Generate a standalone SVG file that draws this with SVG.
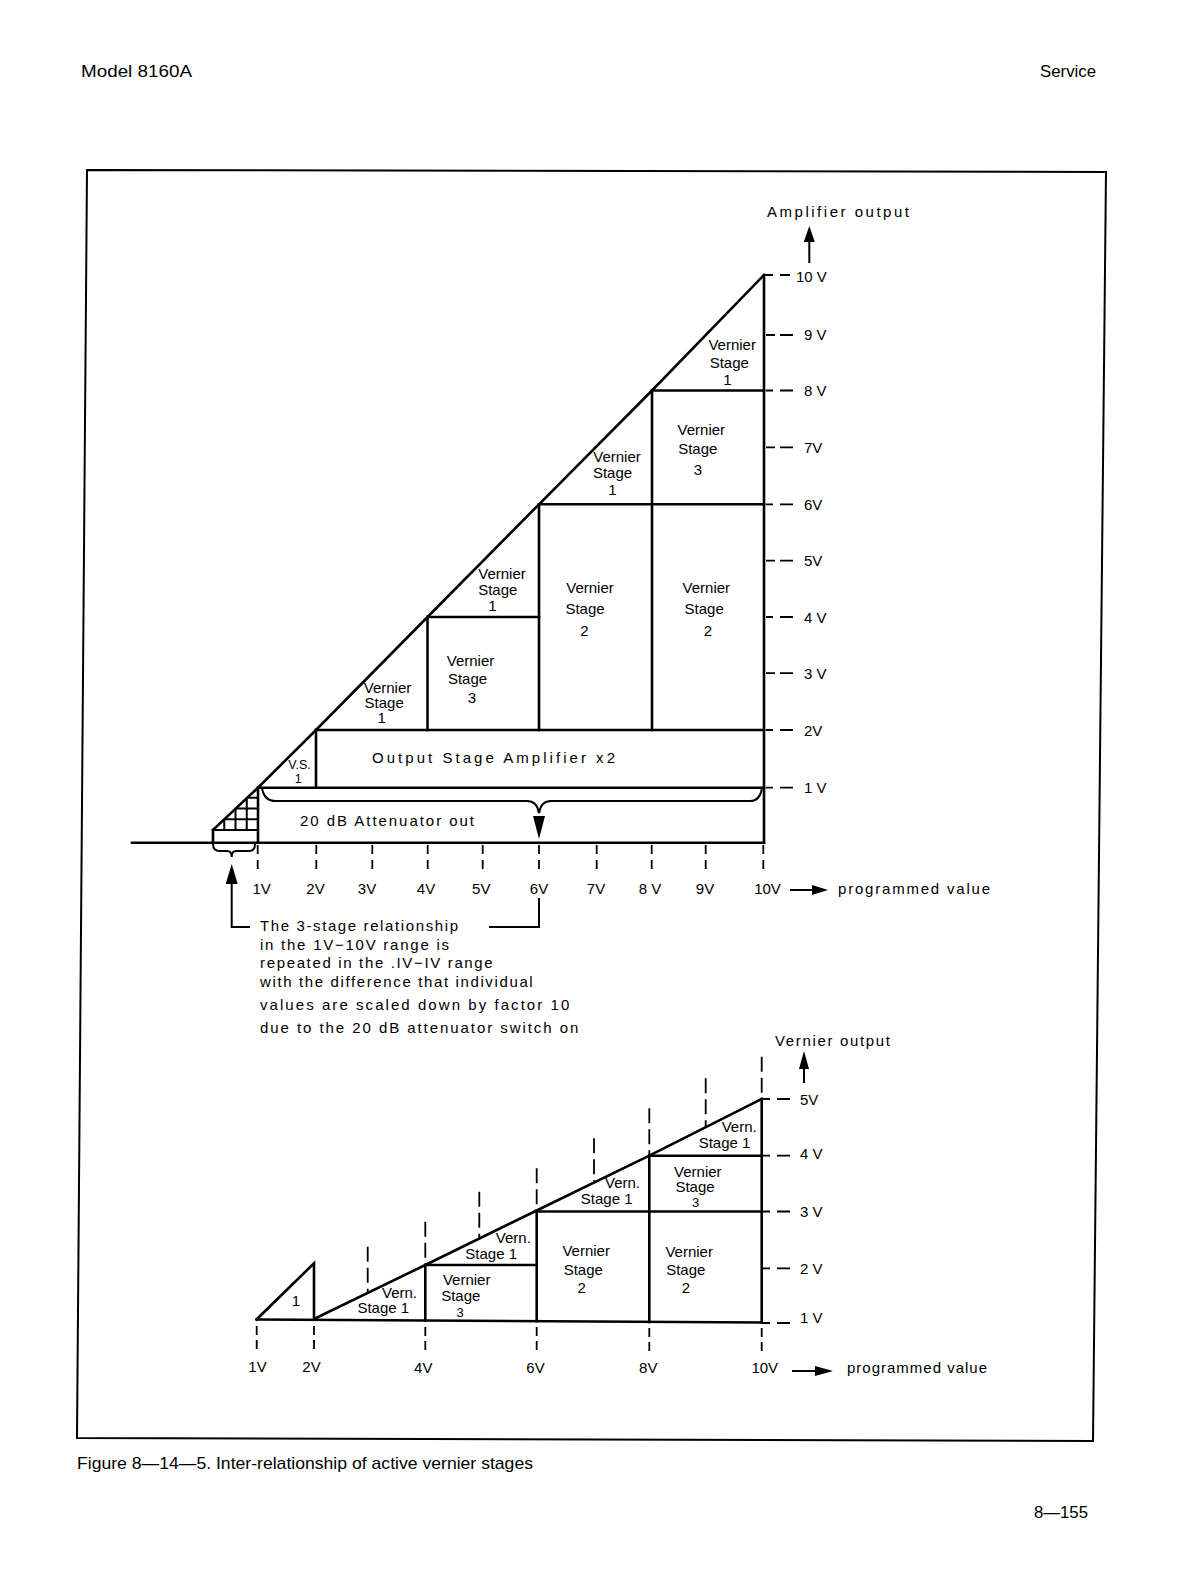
<svg xmlns="http://www.w3.org/2000/svg" width="1191" height="1584" viewBox="0 0 1191 1584">
<style>
.ln{stroke:#000;stroke-width:2.6;fill:none;stroke-linecap:square;stroke-linejoin:miter}
.md{stroke:#000;stroke-width:2;fill:none}
.tk{stroke:#000;stroke-width:1.8;fill:none}
.fr{stroke:#000;stroke-width:2;fill:none}
.t{font-family:"Liberation Sans",Arial,sans-serif;font-size:15px;fill:#000}
.c{text-anchor:middle}
.h{font-family:"Liberation Sans",Arial,sans-serif;font-size:17px;fill:#000}
</style>
<rect x="0" y="0" width="1191" height="1584" fill="#fff"/>
<g id="page">
<text class="h" x="81" y="77" textLength="111" lengthAdjust="spacingAndGlyphs">Model 8160A</text>
<text class="h" x="1040" y="77" textLength="56" lengthAdjust="spacingAndGlyphs">Service</text>
<polygon class="fr" points="87,170 1106,172 1093,1441 77,1438"/>
<text class="h" x="77" y="1469" font-size="16" textLength="456" lengthAdjust="spacingAndGlyphs">Figure 8—14—5. Inter-relationship of active vernier stages</text>
<text class="h" x="1034" y="1518" textLength="54" lengthAdjust="spacingAndGlyphs">8—155</text>
</g>

<g id="upper-chart">
<g id="upper-lines">
<polyline class="ln" points="213,830 258,787.7 316,730 427.5,617 539,504.3 652,390.5 764,275"/>
<line class="ln" x1="132" y1="842.7" x2="764" y2="842.7"/>
<line class="ln" x1="764" y1="275" x2="764" y2="842.7"/>
<line class="ln" x1="258" y1="787.7" x2="764" y2="787.7"/>
<line class="ln" x1="316" y1="730" x2="764" y2="730"/>
<line class="ln" x1="316" y1="730" x2="316" y2="787.7"/>
<line class="ln" x1="427.5" y1="617" x2="539" y2="617"/>
<line class="ln" x1="427.5" y1="617" x2="427.5" y2="730"/>
<line class="ln" x1="539" y1="504.3" x2="764" y2="504.3"/>
<line class="ln" x1="539" y1="504.3" x2="539" y2="730"/>
<line class="ln" x1="652" y1="390.5" x2="764" y2="390.5"/>
<line class="ln" x1="652" y1="390.5" x2="652" y2="730"/>
<line class="ln" x1="258" y1="787.7" x2="258" y2="842.7"/>
</g>
<g id="hatch">
<line class="ln" x1="213" y1="830" x2="213" y2="842.7"/>
<line class="md" x1="213" y1="830" x2="258" y2="830"/>
<line class="md" x1="224.25" y1="819.25" x2="258" y2="819.25"/>
<line class="md" x1="235.5" y1="808.5" x2="258" y2="808.5"/>
<line class="md" x1="246.75" y1="797.75" x2="258" y2="797.75"/>
<line class="md" x1="224.25" y1="819.25" x2="224.25" y2="830"/>
<line class="md" x1="235.5" y1="808.5" x2="235.5" y2="830"/>
<line class="md" x1="246.75" y1="797.75" x2="246.75" y2="830"/>
</g>
<g id="upper-braces">
<path class="md" d="M262,788 Q264,801 276,801 L527,801 Q537,801 539,813 Q541,801 551,801 L750,801 Q760,801 762,788"/>
<polygon points="533,816 545,816 539,839" fill="#000"/>
<path class="md" d="M213,844 Q213,851 220,851 L227,851 Q231.7,851 231.7,857 Q231.7,851 236,851 L249,851 Q255,851 255,844"/>
<polygon points="225.7,884 237.7,884 231.7,864" fill="#000"/>
<polyline class="md" points="231.7,884 231.7,927 250,927"/>
<polyline class="md" points="539,898 539,927 489,927"/>
</g>
<g id="upper-x-ticks" class="tk" stroke-dasharray="9,6">
<line x1="257.7" y1="845" x2="257.7" y2="869"/>
<line x1="316.3" y1="845" x2="316.3" y2="869"/>
<line x1="372.3" y1="845" x2="372.3" y2="869"/>
<line x1="427.7" y1="845" x2="427.7" y2="869"/>
<line x1="482.7" y1="845" x2="482.7" y2="869"/>
<line x1="539" y1="845" x2="539" y2="869"/>
<line x1="596.7" y1="845" x2="596.7" y2="869"/>
<line x1="651.7" y1="845" x2="651.7" y2="869"/>
<line x1="705.7" y1="845" x2="705.7" y2="869"/>
<line x1="763.3" y1="845" x2="763.3" y2="869"/>
</g>
<g id="upper-y-ticks" class="tk">
<path d="M764,275h9M780,275h10"/>
<path d="M766,335h9M780,335h13"/>
<path d="M766,390.5h7M780,390.5h13"/>
<path d="M766,447.3h9M780,447.3h13"/>
<path d="M766,504.3h7M780,504.3h13"/>
<path d="M766,560.6h9M780,560.6h13"/>
<path d="M766,617h7M780,617h13"/>
<path d="M766,673.2h9M780,673.2h13"/>
<path d="M766,730h7M780,730h13"/>
<path d="M766,787.7h7M780,787.7h13"/>
</g>
<g id="upper-axis-labels" class="t">
<text x="796" y="281.7">10 V</text>
<text x="804" y="340">9 V</text>
<text x="804" y="396">8 V</text>
<text x="804" y="453">7V</text>
<text x="804" y="510">6V</text>
<text x="804" y="566">5V</text>
<text x="804" y="622.5">4 V</text>
<text x="804" y="679">3 V</text>
<text x="804" y="735.5">2V</text>
<text x="804" y="793">1 V</text>
<text class="c" x="261.7" y="894">1V</text>
<text class="c" x="315.5" y="894">2V</text>
<text class="c" x="367" y="894">3V</text>
<text class="c" x="426" y="894">4V</text>
<text class="c" x="481.3" y="894">5V</text>
<text class="c" x="539" y="894">6V</text>
<text class="c" x="596" y="894">7V</text>
<text class="c" x="650" y="894">8 V</text>
<text class="c" x="705" y="894">9V</text>
<text class="c" x="767.5" y="894">10V</text>
<text x="838" y="894" textLength="152" lengthAdjust="spacing">programmed value</text>
<text x="767" y="217.3" textLength="142" lengthAdjust="spacing">Amplifier output</text>
</g>
<g id="upper-arrows">
<line class="md" x1="790" y1="890" x2="815" y2="890"/>
<polygon points="812,885 812,895 828,890" fill="#000"/>
<line class="md" x1="809.3" y1="241" x2="809.3" y2="263"/>
<polygon points="803.8,242 814.8,242 809.3,226" fill="#000"/>
</g>
<g id="upper-labels" class="t c">
<text x="732.2" y="350">Vernier</text><text x="729.3" y="368.3">Stage</text><text x="727.5" y="384.5">1</text>
<text x="701.3" y="435">Vernier</text><text x="697.8" y="454">Stage</text><text x="697.8" y="475">3</text>
<text x="617" y="461.7">Vernier</text><text x="612.5" y="478">Stage</text><text x="612.5" y="495">1</text>
<text x="502" y="579.3">Vernier</text><text x="497.8" y="595">Stage</text><text x="492.5" y="610.5">1</text>
<text x="590" y="592.7">Vernier</text><text x="585" y="614">Stage</text><text x="584.5" y="636">2</text>
<text x="706.3" y="592.7">Vernier</text><text x="704.2" y="614">Stage</text><text x="708" y="636">2</text>
<text x="470.5" y="666">Vernier</text><text x="467.5" y="684">Stage</text><text x="472" y="703.3">3</text>
<text x="387.5" y="692.7">Vernier</text><text x="384.2" y="708.3">Stage</text><text x="381.7" y="723">1</text>
<text x="299.5" y="768.5" font-size="12.5">V.S.</text><text x="298.3" y="782.5" font-size="12.5">1</text>
<text x="493.5" y="763.3" textLength="243" lengthAdjust="spacing">Output Stage Amplifier x2</text>
<text x="387" y="826" textLength="174" lengthAdjust="spacing">20 dB Attenuator out</text>
</g>
<g id="note" class="t" font-size="14.5">
<text x="260" y="930.7" textLength="198" lengthAdjust="spacing">The  3-stage relationship</text>
<text x="260" y="950" textLength="189" lengthAdjust="spacing">in the 1V−10V range is</text>
<text x="260" y="968.3" textLength="232.7" lengthAdjust="spacing">repeated  in the .IV−IV range</text>
<text x="260" y="986.7" textLength="272.7" lengthAdjust="spacing">with the difference that individual</text>
<text x="260" y="1010" textLength="309.3" lengthAdjust="spacing">values are scaled down by factor 10</text>
<text x="260" y="1032.5" textLength="318.3" lengthAdjust="spacing">due to the 20 dB attenuator switch on</text>
</g>
</g>

<g id="lower-chart">
<g id="lower-lines">
<polyline class="ln" points="256.7,1319.3 314,1263.3 314,1319.3"/>
<polyline class="ln" points="315,1318.5 425.3,1265 536.7,1210.5 649.3,1155.7 761.7,1099"/>
<line class="ln" x1="256.7" y1="1319.5" x2="761.7" y2="1322.5"/>
<line class="ln" x1="425.3" y1="1265" x2="536.7" y2="1265"/>
<line class="ln" x1="425.3" y1="1265" x2="425.3" y2="1320.5"/>
<line class="ln" x1="536.7" y1="1210.5" x2="536.7" y2="1321"/>
<line class="ln" x1="536.7" y1="1211.5" x2="761.7" y2="1211.5"/>
<line class="ln" x1="649.3" y1="1155.7" x2="649.3" y2="1322"/>
<line class="ln" x1="649.3" y1="1155.7" x2="761.7" y2="1155.7"/>
<line class="ln" x1="761.7" y1="1099" x2="761.7" y2="1322.5"/>
</g>
<g id="lower-up-ticks" class="tk" stroke-dasharray="15,6">
<line x1="367.7" y1="1246.7" x2="367.7" y2="1292"/>
<line x1="425.3" y1="1221.7" x2="425.3" y2="1265"/>
<line x1="479.3" y1="1191.7" x2="479.3" y2="1238"/>
<line x1="536.7" y1="1168.3" x2="536.7" y2="1210"/>
<line x1="594" y1="1138.3" x2="594" y2="1183"/>
<line x1="649.3" y1="1108.3" x2="649.3" y2="1155"/>
<line x1="705.7" y1="1078.3" x2="705.7" y2="1127"/>
<line x1="761.7" y1="1056.7" x2="761.7" y2="1099"/>
</g>
<g id="lower-x-ticks" class="tk" stroke-dasharray="9,5">
<line x1="256.7" y1="1326" x2="256.7" y2="1352"/>
<line x1="314" y1="1326" x2="314" y2="1352"/>
<line x1="425.3" y1="1327" x2="425.3" y2="1353"/>
<line x1="536.7" y1="1327" x2="536.7" y2="1353"/>
<line x1="649.3" y1="1328" x2="649.3" y2="1354"/>
<line x1="761.7" y1="1328" x2="761.7" y2="1354"/>
</g>
<g id="lower-y-ticks" class="tk">
<path d="M763,1099h7M777,1099h13"/>
<path d="M763,1155.7h7M777,1155.7h13"/>
<path d="M763,1211.5h7M777,1211.5h13"/>
<path d="M763,1268.3h7M777,1268.3h13"/>
<path d="M763,1323h7M777,1323h13"/>
</g>
<g id="lower-axis-labels" class="t">
<text x="800" y="1105">5V</text>
<text x="800" y="1159">4 V</text>
<text x="800" y="1217">3 V</text>
<text x="800" y="1273.5">2 V</text>
<text x="800" y="1323">1 V</text>
<text class="c" x="257.5" y="1372">1V</text>
<text class="c" x="311.5" y="1372">2V</text>
<text class="c" x="423.3" y="1373">4V</text>
<text class="c" x="535.5" y="1373">6V</text>
<text class="c" x="648.3" y="1373">8V</text>
<text class="c" x="764.8" y="1373">10V</text>
<text x="847" y="1373" textLength="140" lengthAdjust="spacing">programmed value</text>
<text x="775" y="1046" textLength="115" lengthAdjust="spacing">Vernier output</text>
</g>
<g id="lower-arrows">
<line class="md" x1="792" y1="1371" x2="818" y2="1371"/>
<polygon points="815,1366 815,1376 833,1371" fill="#000"/>
<line class="md" x1="804" y1="1068" x2="804" y2="1083"/>
<polygon points="799,1069 809,1069 804,1051" fill="#000"/>
</g>
<g id="lower-labels" class="t c">
<text x="296" y="1306">1</text>
<text x="399.5" y="1298.3">Vern.</text><text x="383.3" y="1313.3">Stage 1</text>
<text x="466.7" y="1285">Vernier</text><text x="460.8" y="1301">Stage</text><text x="460" y="1316.5" font-size="13">3</text>
<text x="513.3" y="1242.7">Vern.</text><text x="491.2" y="1259.3">Stage 1</text>
<text x="586.2" y="1256">Vernier</text><text x="583.3" y="1275">Stage</text><text x="581.7" y="1292.7">2</text>
<text x="622.5" y="1188.3">Vern.</text><text x="606.7" y="1204">Stage 1</text>
<text x="739.2" y="1131.7">Vern.</text><text x="724.5" y="1147.7">Stage 1</text>
<text x="697.8" y="1176.5">Vernier</text><text x="695" y="1192">Stage</text><text x="695.5" y="1207" font-size="13">3</text>
<text x="689.2" y="1256.7">Vernier</text><text x="685.8" y="1275">Stage</text><text x="686" y="1293.3">2</text>
</g>
</g>
</svg>
